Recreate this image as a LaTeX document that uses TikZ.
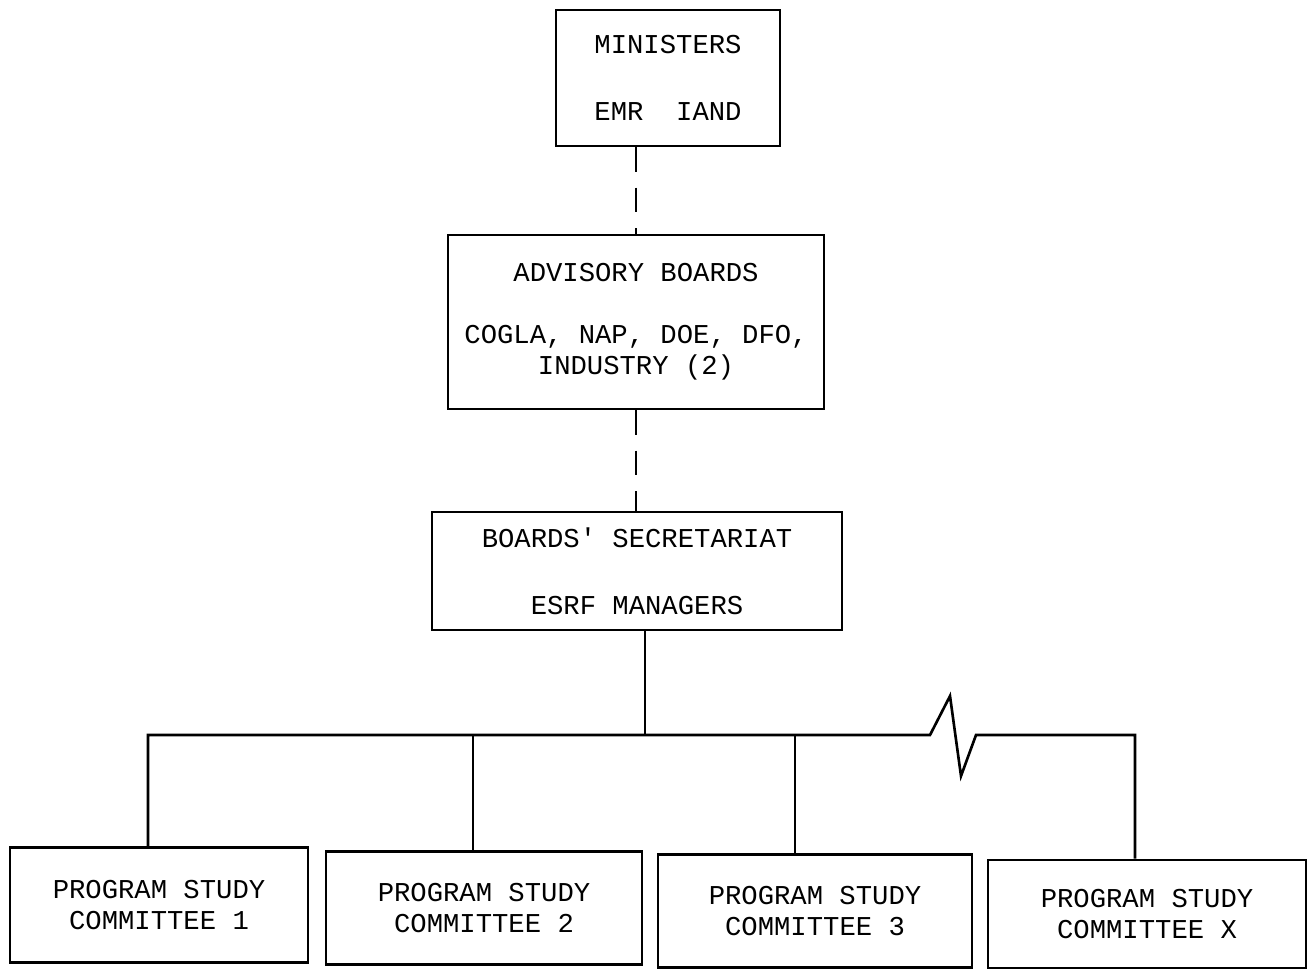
\documentclass[tikz,border=0pt]{standalone}
\usepackage{fontspec}
\setmainfont{Liberation Mono}[Ligatures=TeXOff]
\tikzset{
  orgbox/.style={draw,line width=1.5pt,inner sep=0pt,align=center,
    font=\fontsize{15.5}{18}\selectfont},
  dashlink/.style={line width=1.5pt,dash pattern=on 14pt off 9pt},
  solidlink/.style={line width=1.5pt}
}
\begin{document}
\begin{tikzpicture}[x=0.02cm,y=-0.02cm]
    \useasboundingbox[fill=white] (0,0) rectangle (1312,968);
    \node[orgbox,minimum width=224*0.02cm,minimum height=136*0.02cm] (min) at (668,78)
      {MINISTERS\\[20pt]EMR\ \ IAND};
    \node[orgbox,minimum width=376*0.02cm,minimum height=174*0.02cm] (adv) at (636,322)
      {ADVISORY BOARDS\\[17pt]COGLA, NAP, DOE, DFO,\\INDUSTRY (2)};
    \node[orgbox,minimum width=410*0.02cm,minimum height=118*0.02cm] (sec) at (637,571)
      {BOARDS' SECRETARIAT\\[20pt]ESRF MANAGERS};
    \node[orgbox,minimum width=298*0.02cm,minimum height=115*0.02cm] (psc1) at (159,905)
      {PROGRAM STUDY\\COMMITTEE 1};
    \node[orgbox,minimum width=316*0.02cm,minimum height=113*0.02cm] (psc2) at (484,908)
      {PROGRAM STUDY\\COMMITTEE 2};
    \node[orgbox,minimum width=314*0.02cm,minimum height=113*0.02cm] (psc3) at (815,911)
      {PROGRAM STUDY\\COMMITTEE 3};
    \node[orgbox,minimum width=318*0.02cm,minimum height=108*0.02cm] (psc4) at (1147,914)
      {PROGRAM STUDY\\COMMITTEE X};
    % links between the boards
    \draw[dashlink] (min.south -| adv.north) -- (adv.north);
    \draw[dashlink] (adv.south) -- (adv.south |- sec.north);
    \coordinate (bus) at (645,735);
    \coordinate (brk) at (930,735);
    \coordinate (drop1) at (148,735);
    \coordinate (drop2) at (473,735);
    \coordinate (drop3) at (795,735);
    \coordinate (drop4) at (1135,735);
    \draw[solidlink] (sec.south -| bus) -- (bus);
    % committee bus with break
    \draw[solidlink] (drop1 |- psc1.north) -- (drop1) -- (brk) -- ++(20,-39) -- ++(11,80)
      -- ++(15,-41) -- (drop4) -- (drop4 |- psc4.north);
    \draw[solidlink] (drop2) -- (drop2 |- psc2.north);
    \draw[solidlink] (drop3) -- (drop3 |- psc3.north);
  \end{tikzpicture}
\end{document}
